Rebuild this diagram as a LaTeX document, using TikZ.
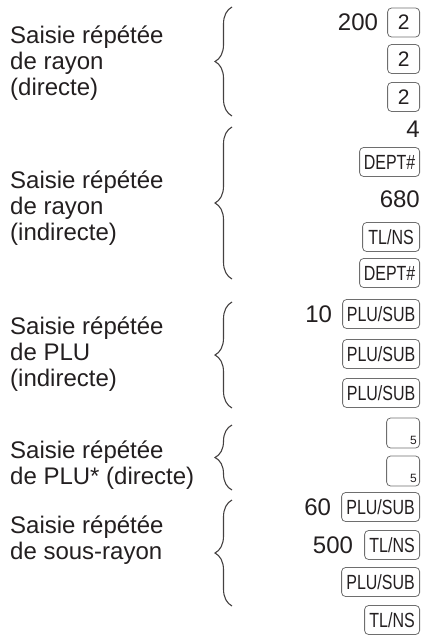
\documentclass[tikz,border=0pt]{standalone}
\usepackage{fontspec}
\setmainfont{Liberation Sans}
\newfontfamily\keyfont[FakeStretch=0.78]{Liberation Sans}
\usetikzlibrary{positioning,decorations.pathreplacing}
\definecolor{ink}{HTML}{231F20}
\definecolor{keyline}{HTML}{6E6E6E}
\tikzset{
  grouptext/.style={anchor=base west, align=left, inner sep=0pt, text=ink,
    font=\fontsize{24}{26}\selectfont},
  num/.style={inner sep=0pt, text=ink, font=\fontsize{24}{26}\selectfont},
  keycap/.style={draw=keyline, line width=0.8pt, rounded corners=4pt, anchor=east,
    minimum height=29pt, inner sep=0pt, text=ink, font=\keyfont\fontsize{20.5}{21}\selectfont},
  digitkey/.style={keycap, minimum width=32pt, font=\fontsize{21}{21}\selectfont},
  smallkey/.style={keycap, minimum width=33pt, minimum height=30pt},
  smalldigit/.style={inner sep=0pt, text=ink, font=\fontsize{12}{12}\selectfont},
  curly/.style={decorate, decoration={brace, amplitude=17pt}, draw=ink!85, line width=1.1pt}
}
\begin{document}
\begin{tikzpicture}[x=1pt,y=-1pt]
\useasboundingbox (0,0) rectangle (423,637);
\node[grouptext] (g1) at (10,95) {Saisie répétée\\de rayon\\(directe)};
\node[grouptext] (g2) at (10,240) {Saisie répétée\\de rayon\\(indirecte)};
\node[grouptext] (g3) at (10,386) {Saisie répétée\\de PLU\\(indirecte)};
\node[grouptext] (g4) at (10,484) {Saisie répétée\\de PLU* (directe)};
\node[grouptext] (g5) at (10,559) {Saisie répétée\\de sous-rayon};

\coordinate (b1n) at (232,7);   \coordinate (b1s) at (232,116);
\coordinate (b2n) at (232,127); \coordinate (b2s) at (232,279);
\coordinate (b3n) at (232,302); \coordinate (b3s) at (232,408);
\coordinate (b4n) at (232,425); \coordinate (b4s) at (232,490);
\coordinate (b5n) at (232,500); \coordinate (b5s) at (232,606);
\draw[curly] (b1s) -- (b1n);
\draw[curly] (b2s) -- (b2n);
\draw[curly] (b3s) -- (b3n);
\draw[curly] (b4s) -- (b4n);
\draw[curly] (b5s) -- (b5n);

\node[digitkey] (k2a) at (420,22.5) {2};
\node[num, left=9pt of k2a] (n200) {200};
\node[digitkey] (k2b) at (420,59) {2};
\node[digitkey] (k2c) at (420,97) {2};

\node[num, anchor=east] (n4) at (420,129) {4};
\node[keycap, minimum width=60pt] (kdept1) at (420,162) {DEPT\#};
\node[num, anchor=east] (n680) at (420,199) {680};
\node[keycap, minimum width=57pt] (ktl1) at (420,237) {TL/NS};
\node[keycap, minimum width=60pt] (kdept2) at (420,273) {DEPT\#};

\node[keycap, minimum width=77pt] (kplu1) at (420,314) {PLU/SUB};
\node[num, left=10pt of kplu1] (n10) {10};
\node[keycap, minimum width=77pt] (kplu2) at (420,354) {PLU/SUB};
\node[keycap, minimum width=77pt] (kplu3) at (420,393) {PLU/SUB};

\node[smallkey] (k5a) at (420,433) {};
\node[smalldigit, anchor=south east] (d5a) at ([xshift=-3pt,yshift=4pt]k5a.south east) {5};
\node[smallkey] (k5b) at (420,471) {};
\node[smalldigit, anchor=south east] (d5b) at ([xshift=-3pt,yshift=4pt]k5b.south east) {5};

\node[keycap, minimum width=78pt] (kplu4) at (420,507) {PLU/SUB};
\node[num, left=10pt of kplu4] (n60) {60};
\node[keycap, minimum width=55pt] (ktl2) at (420,545) {TL/NS};
\node[num, left=11pt of ktl2] (n500) {500};
\node[keycap, minimum width=78pt] (kplu5) at (420,582) {PLU/SUB};
\node[keycap, minimum width=55pt] (ktl3) at (420,620) {TL/NS};
\end{tikzpicture}
\end{document}
